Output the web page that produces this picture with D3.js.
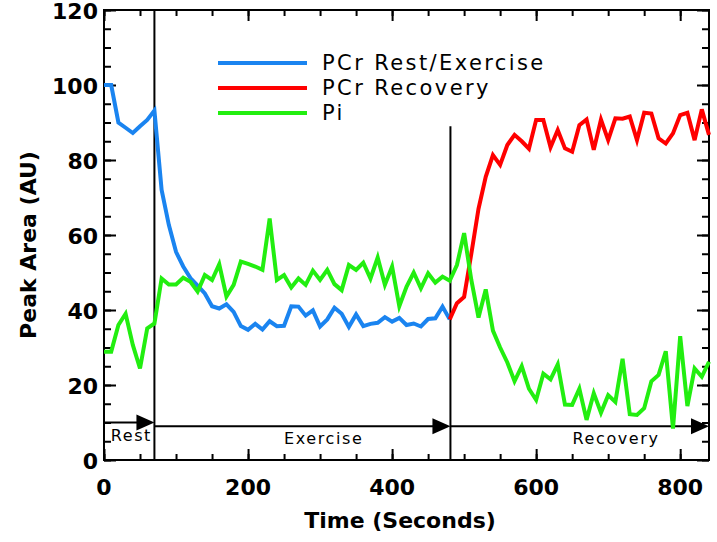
<!DOCTYPE html>
<html>
<head>
<meta charset="utf-8">
<script src="https://cdn.jsdelivr.net/npm/d3@7"></script>
<style>
body { margin: 0; background: #fff; }
text { fill: #000; }
</style>
</head>
<body>
<svg id="chart" width="717" height="542"></svg>
<script>
// sample times (s)
var timeSec = [0, 10, 20, 30, 40, 50, 60, 70, 80, 90, 100, 110, 120, 130, 140, 150, 160, 170, 180, 190,
  200, 210, 220, 230, 240, 250, 260, 270, 280, 290, 300, 310, 320, 330, 340, 350, 360, 370, 380, 390,
  400, 410, 420, 430, 440, 450, 460, 470, 480, 490, 500, 510, 520, 530, 540, 550, 560, 570, 580, 590,
  600, 610, 620, 630, 640, 650, 660, 670, 680, 690, 700, 710, 720, 730, 740, 750, 760, 770, 780, 790,
  800, 810, 820, 830, 840];

// PCr during rest + exercise (0..480 s)
var pcrRestExercise = [100, 100, 90, 88.6, 87.2, 89, 90.7, 93.2, 72, 62.7,
  55.5, 51.6, 48.5, 46.5, 44.4, 41, 40.4, 41.5, 39.5, 35.7,
  34.7, 36.3, 34.8, 37, 35.7, 35.8, 41, 40.9, 38.5, 39.9,
  35.6, 37.5, 40.6, 39, 35.5, 38.8, 35.7, 36.3, 36.6, 38.1,
  36.9, 37.9, 36, 36.4, 35.6, 37.6, 37.8, 40.9, 37.5];

// PCr during recovery (480..840 s)
var pcrRecovery = [37.5, 41.8, 43.5, 55, 67, 75.5, 81.3, 78.7, 84, 86.7,
  85, 83, 90.7, 90.7, 83.4, 88, 83.1, 82.2, 89.3, 90.8,
  82.7, 90.8, 85.3, 91.1, 91, 91.6, 85.3, 92.6, 92.4, 85.8,
  84.4, 87.1, 92, 92.6, 85.3, 93.5, 86.7];

// Pi over the whole run (0..840 s)
var pi = [28.9, 28.9, 36, 39, 30.7, 24.4, 35.1, 36.4, 48.4, 46.8,
  46.8, 48.6, 47.5, 44.9, 49.3, 48, 52.2, 43.6, 46.7, 52.9,
  52.3, 51.6, 50.7, 64.4, 48, 49.3, 46, 48.4, 46.7, 50.5,
  48, 50.7, 46.9, 45.3, 52, 50.7, 52.6, 48.4, 54, 46.7,
  51.6, 41, 46.2, 50, 45.8, 49.8, 47.3, 48.9, 47.8, 52,
  60.5, 48, 38, 45.5, 34.5, 30, 26, 21, 25, 19,
  16, 23, 21.5, 25.5, 14.8, 14.7, 19, 10.7, 17.8, 12.6,
  17.3, 15.5, 27, 12.2, 12, 13.8, 21, 22.7, 29, 8.4,
  33, 14.4, 24.4, 22.2, 26.2];

var seriesNames = ["PCr Rest/Exercise", "PCr Recovery", "Pi"];
var seriesColors = ["#1a84f0", "#ff0000", "#22ee10"];

// phases drawn as arrows along the bottom
var phaseNames = ["Rest", "Exercise", "Recovery"];
var phaseStart = [0, 70, 481];
var phaseEnd = [70, 481, 840];
var phaseArrowY = [10, 9, 9];
var phaseLabelT = [38, 305, 711];

var xTicks = [0, 200, 400, 600, 800];
var yTicks = [0, 20, 40, 60, 80, 100, 120];

var svg = d3.select("#chart"),
    width = +svg.attr("width"),
    height = +svg.attr("height"),
    margin = {top: 10, right: 8, bottom: 82, left: 104};

var x = d3.scaleLinear().domain([0, 840]).range([margin.left, width - margin.right]);
var y = d3.scaleLinear().domain([0, 120]).range([height - margin.bottom, margin.top]);

var boldFont = "bold 22px 'DejaVu Sans', sans-serif";

// minor + major ticks on all four sides, pointing inward
function ticks(axisFn, pos, values, size) {
    svg.append("g")
        .attr("transform", pos)
        .call(axisFn.tickValues(values).tickSize(-size).tickFormat(""))
        .call(function(g) { g.select(".domain").remove(); })
        .selectAll("line").attr("stroke", "#000").attr("stroke-width", 2);
}
var yMinor = d3.range(0, 121, 5), xMinor = d3.range(0, 841, 50);
ticks(d3.axisLeft(y), "translate(" + margin.left + ",0)", yMinor, 7);
ticks(d3.axisLeft(y), "translate(" + margin.left + ",0)", yTicks, 12);
ticks(d3.axisRight(y), "translate(" + (width - margin.right) + ",0)", yMinor, 7);
ticks(d3.axisRight(y), "translate(" + (width - margin.right) + ",0)", yTicks, 12);
ticks(d3.axisBottom(x), "translate(0," + y(0) + ")", xMinor, 6);
ticks(d3.axisBottom(x), "translate(0," + y(0) + ")", xTicks, 11);
ticks(d3.axisTop(x), "translate(0," + y(120) + ")", xMinor, 6);
ticks(d3.axisTop(x), "translate(0," + y(120) + ")", xTicks, 11);

// frame
svg.append("rect")
    .attr("x", x(0)).attr("y", y(120))
    .attr("width", x(840) - x(0)).attr("height", y(0) - y(120))
    .attr("fill", "none").attr("stroke", "#000").attr("stroke-width", 2);

// tick labels
svg.append("g").selectAll("text")
    .data(yTicks).enter().append("text")
    .attr("x", x(0) - 6)
    .attr("y", function(d) { return y(d); })
    .attr("dy", "0.4em")
    .attr("text-anchor", "end")
    .style("font", boldFont)
    .text(function(d) { return d; });

svg.append("g").selectAll("text")
    .data(xTicks).enter().append("text")
    .attr("x", function(d) { return x(d); })
    .attr("y", y(0) + 35)
    .attr("text-anchor", "middle")
    .style("font", boldFont)
    .text(function(d) { return d; });

// axis titles
svg.append("text")
    .attr("x", 400).attr("y", 528)
    .attr("text-anchor", "middle")
    .style("font", boldFont)
    .text("Time (Seconds)");

svg.append("text")
    .attr("transform", "translate(36,245) rotate(-90)")
    .attr("text-anchor", "middle")
    .style("font", boldFont)
    .text("Peak Area (AU)");

// phase boundaries
svg.append("line")
    .attr("x1", x(phaseStart[1])).attr("x2", x(phaseStart[1]))
    .attr("y1", y(0)).attr("y2", y(120))
    .attr("stroke", "#000").attr("stroke-width", 2);
svg.append("line")
    .attr("x1", x(phaseStart[2])).attr("x2", x(phaseStart[2]))
    .attr("y1", y(0)).attr("y2", y(89))
    .attr("stroke", "#000").attr("stroke-width", 2);

// phase arrows
var arrows = svg.append("g");
phaseNames.forEach(function(name, i) {
    var x0 = x(phaseStart[i]), x1 = x(phaseEnd[i]), yy = y(phaseArrowY[i]);
    arrows.append("line")
        .attr("x1", x0).attr("x2", x1 - 10)
        .attr("y1", yy).attr("y2", yy)
        .attr("stroke", "#000").attr("stroke-width", 2);
    arrows.append("path")
        .attr("d", "M" + x1 + "," + yy + "L" + (x1 - 18) + "," + (yy - 8) + "L" + (x1 - 18) + "," + (yy + 8) + "Z")
        .attr("fill", "#000");
    arrows.append("text")
        .attr("x", x(phaseLabelT[i]))
        .attr("y", yy + 18)
        .attr("text-anchor", "middle")
        .style("font", "16px 'DejaVu Sans', sans-serif")
        .style("letter-spacing", "1.6px")
        .text(name);
});

// data lines
var line = d3.line()
    .x(function(d) { return x(d[0]); })
    .y(function(d) { return y(d[1]); });

var blueData = pcrRestExercise.map(function(v, i) { return [timeSec[i], v]; });
var redData = pcrRecovery.map(function(v, i) { return [timeSec[i + 48], v]; });
var greenData = pi.map(function(v, i) { return [timeSec[i], v]; });

[blueData, redData, greenData].forEach(function(d, i) {
    svg.append("path")
        .datum(d)
        .attr("d", line)
        .attr("fill", "none")
        .attr("stroke", seriesColors[i])
        .attr("stroke-width", 4);
});

// legend
var legend = svg.append("g");
seriesNames.forEach(function(name, i) {
    var ly = 63 + i * 25;
    legend.append("line")
        .attr("x1", 218).attr("x2", 307)
        .attr("y1", ly).attr("y2", ly)
        .attr("stroke", seriesColors[i]).attr("stroke-width", 4);
    legend.append("text")
        .attr("x", 322).attr("y", ly + 7)
        .style("font", "21px 'DejaVu Sans', sans-serif")
        .style("letter-spacing", "2.4px")
        .text(name);
});
</script>
</body>
</html>
